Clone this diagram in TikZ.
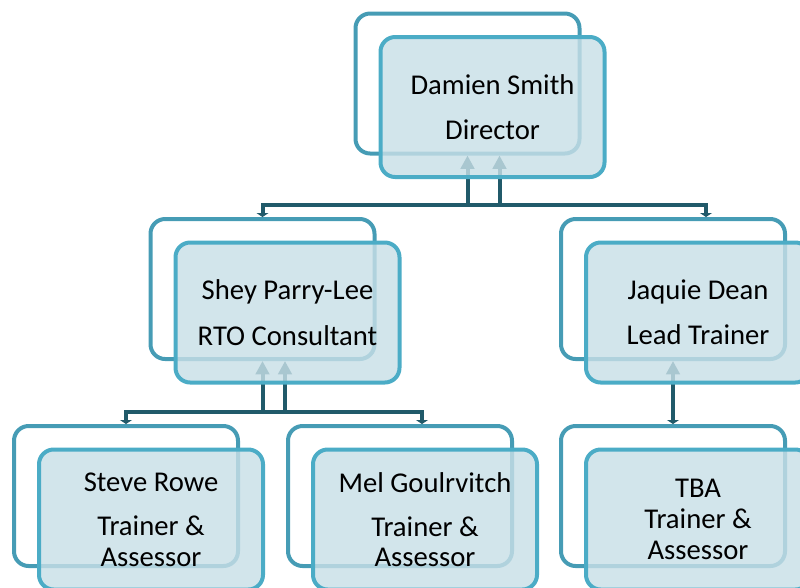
\documentclass[tikz,border=0pt]{standalone}
\usepackage{fontspec}
\setmainfont{Carlito}
\usetikzlibrary{arrows.meta, calc}
\definecolor{backline}{RGB}{70,156,181}
\definecolor{frontline}{RGB}{75,172,198}
\definecolor{boxfill}{RGB}{200,223,231}
\definecolor{linkcol}{RGB}{33,90,106}

\begin{document}
\begin{tikzpicture}[x=0.75pt, y=-0.75pt,
	backbox/.style={draw=backline, line width=3pt, rounded corners=11pt, minimum width=168pt, minimum height=105pt, inner sep=0pt},
	frontbox/.style={backbox, draw=frontline, fill=boxfill, fill opacity=0.82, text opacity=1, align=center, font=\fontsize{21.5}{23}\selectfont},
	link/.style={draw=linkcol, line width=3pt, {Triangle[width=10pt,length=10pt]}-{Triangle[width=9pt,length=3pt]}}]
	\useasboundingbox (0,0) rectangle (800,587);
	% back boxes
	\node [backbox] (damienB) at (467.5,83.5) {};
	\node [backbox] (sheyB) at (262.5,289) {};
	\node [backbox] (jaquieB) at (673,289) {};
	\node [backbox] (steveB) at (126,496) {};
	\node [backbox] (melB) at (400,496) {};
	\node [backbox] (tbaB) at (673,496) {};
	% connectors
	\coordinate (busA) at (0,205);
	\coordinate (busB) at (0,412);
	\coordinate (damienR) at ($(damienB.south)+(32,0)$);
	\coordinate (jaquieT) at ($(jaquieB.north)+(33,0)$);
	\coordinate (sheyR) at ($(sheyB.south)+(22.5,0)$);
	\coordinate (melT) at ($(melB.north)+(22,0)$);
	\draw [link] (damienR) -- (damienR |- busA) -| (sheyB.north);
	\draw [link] (damienB.south) -- (damienB.south |- busA) -| (jaquieT);
	\draw [link] (sheyR) -- (sheyR |- busB) -| (steveB.north);
	\draw [link] (sheyB.south) -- (sheyB.south |- busB) -| (melT);
	\draw [link] (jaquieB.south) -- (tbaB.north);
	% front boxes
	\node [frontbox] (damien) at ($(damienB)+(25,23.5)$) {Damien Smith\\[11pt]Director};
	\node [frontbox] (shey) at ($(sheyB)+(25,23.5)$) {Shey Parry-Lee\\[11pt]RTO Consultant};
	\node [frontbox] (jaquie) at ($(jaquieB)+(25,23.5)$) {Jaquie Dean\\[11pt]Lead Trainer};
	\node [frontbox] (steve) at ($(steveB)+(25,23.5)$) {Steve Rowe\\[10pt]Trainer \&\\Assessor};
	\node [frontbox] (mel) at ($(melB)+(25,23.5)$) {Mel Goulrvitch\\[10pt]Trainer \&\\Assessor};
	\node [frontbox] (tba) at ($(tbaB)+(25,23.5)$) {TBA\\Trainer \&\\Assessor};
\end{tikzpicture}
\end{document}
